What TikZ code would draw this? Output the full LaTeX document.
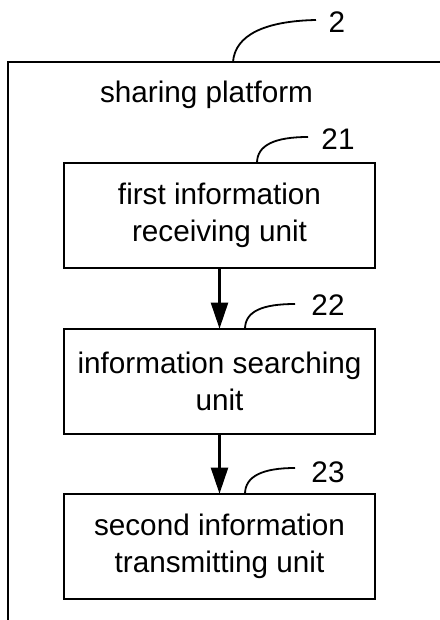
\documentclass[tikz,border=0pt]{standalone}
\usepackage{fontspec}
\setmainfont{Liberation Sans}
\usetikzlibrary{arrows.meta}
\tikzset{
  unitbox/.style={draw, line width=2.6bp, minimum width=311bp, minimum height=105bp,
    align=center, inner sep=0pt, font=\fontsize{29.7bp}{37bp}\selectfont},
  reflabel/.style={anchor=base, inner sep=0pt, font=\fontsize{29.7bp}{37bp}\selectfont},
  frame/.style={line width=2.4bp},
  leader/.style={line width=1.8bp},
  flow/.style={line width=2.2bp, -{Triangle[width=17bp,length=26bp]}, shorten >=-1bp}
}
\begin{document}
\begin{tikzpicture}[x=1bp,y=-1bp]
  \useasboundingbox (0,0) rectangle (440,620);
  % platform frame, open at the right and at the bottom
  \coordinate (fb) at (8,621);
  \coordinate (fc) at (8,62);
  \coordinate (fr) at (441,62);
  \draw[frame] (fb) -- (fc) -- (fr);
  \node[reflabel] (title) at (206.5,103) {sharing platform};

  % units
  \node[unitbox] (u21) at (219.5,215.5) {first information\\receiving unit};
  \node[unitbox] (u22) at (219.5,381.5) {information searching\\unit};
  \node[unitbox] (u23) at (219.5,546.5) {second information\\transmitting unit};

  % reference numerals
  \node[reflabel] (n2)  at (337,33)  {2};
  \node[reflabel] (n21) at (338,150) {21};
  \node[reflabel] (n22) at (328,315) {22};
  \node[reflabel] (n23) at (328,482) {23};

  % leader lines
  \coordinate (p2)  at (233,62);
  \coordinate (e2)  at (316,20);
  \draw[leader] (p2) .. controls (235,35) and (265,21) .. (e2);
  \coordinate (p21) at (257,163);
  \coordinate (e21) at (308,137);
  \draw[leader] (p21) .. controls (257,145) and (275,137) .. (e21);
  \coordinate (p22) at (245,329);
  \coordinate (e22) at (295,304);
  \draw[leader] (p22) .. controls (245,311) and (263,304) .. (e22);
  \coordinate (p23) at (245,494);
  \coordinate (e23) at (295,468);
  \draw[leader] (p23) .. controls (245,476) and (263,468) .. (e23);

  % flow between units
  \draw[flow] (u21.south) -- (u22.north);
  \draw[flow] (u22.south) -- (u23.north);
\end{tikzpicture}
\end{document}
